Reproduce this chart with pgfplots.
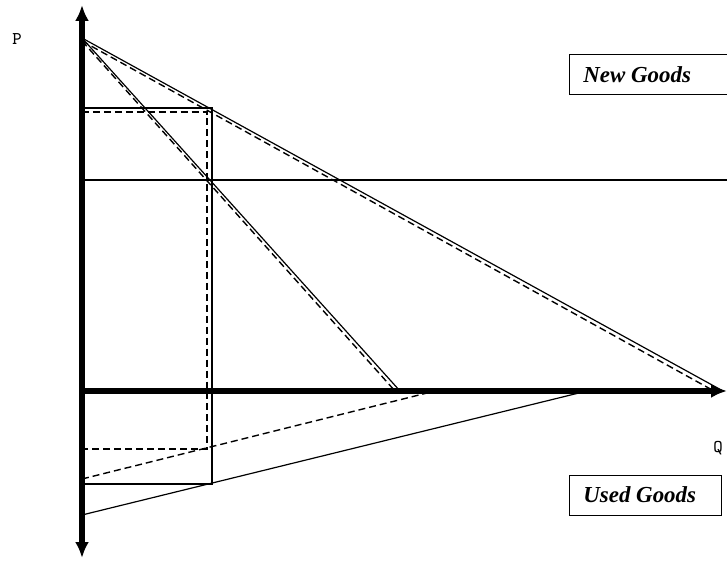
\documentclass[border=0pt]{standalone}
\usepackage{pgfplots}
\pgfplotsset{compat=1.18}
\usepackage{fontspec}
\setmainfont{Liberation Serif}
\usetikzlibrary{arrows.meta}
\begin{document}
\begin{tikzpicture}
\begin{axis}[
    hide axis,
    scale only axis,
    width=363.5bp, height=280.5bp,
    xmin=-82, xmax=645, ymin=-170, ymax=391,
    clip=false,
    thinline/.style={black, line width=0.6pt},
    dashline/.style={black, line width=0.7pt, dash pattern=on 3.5pt off 2pt},
]
% axes
\addplot[black, line width=2.6pt, {Latex[length=8pt,width=7pt]}-{Latex[length=8pt,width=7pt]}] coordinates {(0,-167) (0,386)};
\addplot[black, line width=2.6pt, -{Latex[length=8pt,width=7pt]}] coordinates {(0,0) (645,0)};
% new goods demand curves
\addplot[thinline] coordinates {(0,353) (641,0)};
\addplot[dashline] coordinates {(0,350) (632,0)};
\addplot[thinline] coordinates {(0,353) (318,0)};
\addplot[dashline] coordinates {(0,350) (313,0)};
% price line
\addplot[thinline] coordinates {(0,211) (645,211)};
% rectangles
\addplot[thinline] coordinates {(0,283) (130,283) (130,-93) (0,-93)};
\addplot[dashline] coordinates {(0,279) (125,279) (125,-58) (0,-58)};
% used goods curves
\addplot[thinline] coordinates {(0,-124) (505,0)};
\addplot[dashline] coordinates {(0,-88) (353,0)};
% labels
\node[font=\ttfamily\fontsize{9}{10}\selectfont] at (axis cs:-65,352) {P};
\node[font=\ttfamily\fontsize{9}{10}\selectfont] at (axis cs:636,-57) {Q};
\draw[black, line width=0.5pt] (axis cs:645,336) -- (axis cs:487,336) -- (axis cs:487,296) -- (axis cs:645,296);
\node[anchor=west, inner sep=0pt, font=\fontsize{11.5}{13}\selectfont\bfseries\itshape] at (axis cs:501,316) {New Goods};
\draw[black, line width=0.5pt] (axis cs:487,-84) rectangle (axis cs:639,-124);
\node[anchor=west, inner sep=0pt, font=\fontsize{11.5}{13}\selectfont\bfseries\itshape] at (axis cs:501,-104) {Used Goods};
\end{axis}
\pgfresetboundingbox
\path (current axis.south west) rectangle (current axis.north east);
\end{tikzpicture}
\end{document}
